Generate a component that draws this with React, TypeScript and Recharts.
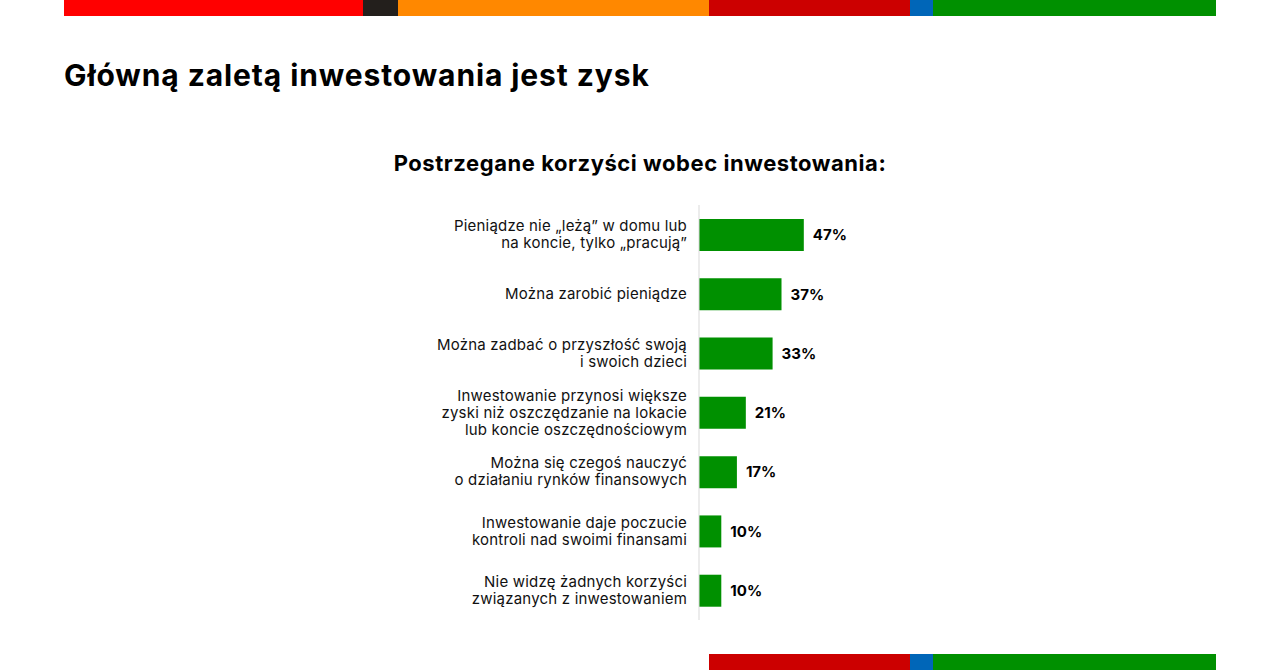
import React from "react";
import { BarChart, Bar, XAxis, YAxis, LabelList } from "recharts";

const categories = [
  "Pieniądze nie „leżą” w domu lub\nna koncie, tylko „pracują”",
  "Można zarobić pieniądze",
  "Można zadbać o przyszłość swoją\ni swoich dzieci",
  "Inwestowanie przynosi większe\nzyski niż oszczędzanie na lokacie\nlub koncie oszczędnościowym",
  "Można się czegoś nauczyć\no działaniu rynków finansowych",
  "Inwestowanie daje poczucie\nkontroli nad swoimi finansami",
  "Nie widzę żadnych korzyści\nzwiązanych z inwestowaniem",
];
const values = [47, 37, 33, 21, 17, 10, 10];

const data = categories.map((c, i) => ({ name: c, value: values[i] }));

const FONT = "Inter, 'Open Sans', sans-serif";

const Tick = (props: any) => {
  const { x, y, payload } = props;
  const lines: string[] = String(payload.value).split("\n");
  const lh = 17;
  const start = -((lines.length - 1) * lh) / 2;
  return (
    <text x={x} y={y} textAnchor="end" fontFamily={FONT} fontSize={15} fill="#111" style={{ letterSpacing: "0.2px" }}>
      {lines.map((l, i) => (
        <tspan key={i} x={x} dy={i === 0 ? start + 5 : lh}>
          {l}
        </tspan>
      ))}
    </text>
  );
};

const stripTop = [
  { x: 64, w: 299, c: "#ff0000" },
  { x: 363, w: 35, c: "#231f1c" },
  { x: 398, w: 311, c: "#ff8800" },
  { x: 709, w: 201, c: "#cc0000" },
  { x: 910, w: 23, c: "#0066b8" },
  { x: 933, w: 283, c: "#009000" },
];
const stripBottom = stripTop.slice(3);

export default function App() {
  return (
    <div style={{ position: "absolute", left: 0, top: 0, width: 1280, height: 670, background: "#fff", overflow: "hidden" }}>
      {stripTop.map((s, i) => (
        <div key={"t" + i} style={{ position: "absolute", left: s.x, top: 0, width: s.w, height: 16, background: s.c }} />
      ))}
      {stripBottom.map((s, i) => (
        <div key={"b" + i} style={{ position: "absolute", left: s.x, top: 654, width: s.w, height: 16, background: s.c }} />
      ))}
      <div style={{ position: "absolute", left: 64, top: 56, fontFamily: FONT, fontWeight: 700, fontSize: 30, letterSpacing: "0.9px", color: "#000", lineHeight: "38px", whiteSpace: "nowrap" }}>
        Główną zaletą inwestowania jest zysk
      </div>
      <div style={{ position: "absolute", left: 0, width: 1280, top: 149, textAlign: "center", fontFamily: FONT, fontWeight: 700, fontSize: 22, letterSpacing: "0.55px", color: "#000", lineHeight: "28px" }}>
        Postrzegane korzyści wobec inwestowania:
      </div>
      <div style={{ position: "absolute", left: 0, top: 0 }}>
        <BarChart
          width={1280}
          height={670}
          data={data}
          layout="vertical"
          margin={{ top: 205, right: 358, bottom: 50, left: 399 }}
          barCategoryGap={0}
        >
          <XAxis type="number" domain={[0, 100]} hide />
          <YAxis
            type="category"
            dataKey="name"
            width={300}
            tickSize={0}
            tickMargin={12}
            tickLine={false}
            axisLine={{ stroke: "#d9d9d9", strokeWidth: 1 }}
            tick={<Tick />}
            interval={0}
          />
          <Bar dataKey="value" fill="#009000" barSize={32} isAnimationActive={false}>
            <LabelList
              dataKey="value"
              position="right"
              offset={9}
              formatter={(v: any) => `${v}%`}
              style={{ fontFamily: FONT, fontWeight: 700, fontSize: 15, fill: "#000" }}
            />
          </Bar>
        </BarChart>
      </div>
    </div>
  );
}
